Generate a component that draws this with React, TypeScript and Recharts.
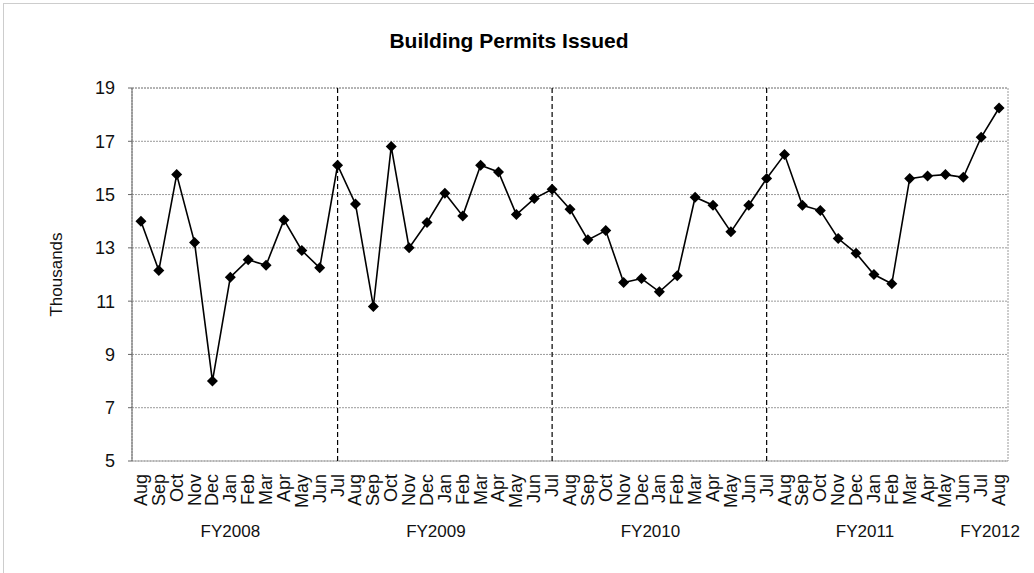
import React from 'react';
import {
  LineChart,
  Line,
  XAxis,
  YAxis,
  CartesianGrid,
  ReferenceLine,
  ReferenceArea,
} from 'recharts';

const months = [
  'Aug', 'Sep', 'Oct', 'Nov', 'Dec', 'Jan', 'Feb', 'Mar', 'Apr', 'May', 'Jun', 'Jul',
  'Aug', 'Sep', 'Oct', 'Nov', 'Dec', 'Jan', 'Feb', 'Mar', 'Apr', 'May', 'Jun', 'Jul',
  'Aug', 'Sep', 'Oct', 'Nov', 'Dec', 'Jan', 'Feb', 'Mar', 'Apr', 'May', 'Jun', 'Jul',
  'Aug', 'Sep', 'Oct', 'Nov', 'Dec', 'Jan', 'Feb', 'Mar', 'Apr', 'May', 'Jun', 'Jul',
  'Aug',
];

const permits = [
  14.0, 12.15, 15.75, 13.2, 8.0, 11.9, 12.55, 12.35, 14.05, 12.9, 12.25, 16.1,
  14.65, 10.8, 16.8, 13.0, 13.95, 15.05, 14.2, 16.1, 15.85, 14.25, 14.85, 15.2,
  14.45, 13.3, 13.65, 11.7, 11.85, 11.35, 11.95, 14.9, 14.6, 13.6, 14.6, 15.6,
  16.5, 14.6, 14.4, 13.35, 12.8, 12.0, 11.65, 15.6, 15.7, 15.75, 15.65, 17.15,
  18.25,
];

const fyLabels = ['FY2008', 'FY2009', 'FY2010', 'FY2011', 'FY2012'];
const fyStart = [0, 11, 23, 35, 47];
const fyEnd = [10, 22, 34, 46, 48];
const fyBoundaries = [11, 23, 35];
const yTicks = [5, 7, 9, 11, 13, 15, 17, 19];

const data = permits.map((v, i) => ({ idx: i, month: months[i], value: v }));
const monthTicks = months.map((_, i) => i);
const fyCenters = fyStart.map((s, i) => (s + fyEnd[i]) / 2);

const FONT = '"Liberation Sans", Arial, sans-serif';

const MonthTick = (props: any) => {
  const { x, y, payload } = props;
  return (
    <text
      transform={`translate(${x},${y + 13}) rotate(-90)`}
      textAnchor="end"
      dominantBaseline="central"
      fontSize={18}
      fontFamily={FONT}
      fill="#111"
    >
      {months[payload.value]}
    </text>
  );
};

const FyTick = (props: any) => {
  const { x, y, payload } = props;
  const i = fyCenters.indexOf(payload.value);
  return (
    <text x={x} y={y + 18} textAnchor="middle" fontSize={17} fontFamily={FONT} fill="#111">
      {fyLabels[i]}
    </text>
  );
};

const Diamond = (props: any) => {
  const { cx, cy, index } = props;
  if (cx == null || cy == null) return <g key={index} />;
  const s = 5.5;
  return (
    <path
      key={index}
      d={`M${cx},${cy - s}L${cx + s},${cy}L${cx},${cy + s}L${cx - s},${cy}Z`}
      fill="#000"
      stroke="none"
    />
  );
};

const YLabel = (props: any) => {
  const vb = props.viewBox || {};
  const cy = vb.y + vb.height / 2;
  return (
    <text
      transform={`translate(56,${cy}) rotate(-90)`}
      textAnchor="middle"
      dominantBaseline="central"
      fontSize={17}
      fontFamily={FONT}
      fill="#111"
    >
      Thousands
    </text>
  );
};

export default function App() {
  return (
    <div style={{ position: 'absolute', left: 0, top: 0, width: 1034, height: 573, background: '#fff', overflow: 'hidden' }}>
      <LineChart
        width={1034}
        height={573}
        data={data}
        margin={{ top: 88, right: 26, left: 0, bottom: 0 }}
        style={{ fontFamily: FONT }}
      >
        <CartesianGrid vertical={false} stroke="#9a9a9a" strokeDasharray="2 1" />
        <ReferenceArea
          x1={-0.5}
          x2={48.5}
          y1={5}
          y2={19}
          fill="none"
          fillOpacity={0}
          stroke="#9a9a9a"
          strokeDasharray="2 1"
          ifOverflow="visible"
        />
        <XAxis
          dataKey="idx"
          type="number"
          domain={[-0.5, 48.5]}
          allowDataOverflow
          ticks={monthTicks}
          interval={0}
          tick={<MonthTick />}
          tickLine={false}
          axisLine={false}
          tickSize={0}
          tickMargin={0}
          height={58}
        />
        <XAxis
          xAxisId="fy"
          dataKey="idx"
          type="number"
          domain={[-0.5, 48.5]}
          allowDataOverflow
          ticks={fyCenters}
          interval={0}
          tick={<FyTick />}
          tickLine={false}
          axisLine={false}
          tickSize={0}
          tickMargin={0}
          height={54}
        />
        <YAxis
          type="number"
          domain={[5, 19]}
          ticks={yTicks}
          interval={0}
          width={132}
          tickSize={4}
          tickMargin={13}
          tick={{ fontSize: 18, fill: '#111', fontFamily: FONT }}
          tickLine={{ stroke: '#666' }}
          axisLine={{ stroke: '#666' }}
          label={<YLabel />}
        />
        {fyBoundaries.map((b) => (
          <ReferenceLine key={b} x={b} stroke="#000" strokeWidth={1.2} strokeDasharray="5 3" />
        ))}
        <Line
          type="linear"
          dataKey="value"
          stroke="#000"
          strokeWidth={1.6}
          dot={(p: any) => <Diamond {...p} />}
          activeDot={false}
          isAnimationActive={false}
        />
      </LineChart>
      <svg
        width={1034}
        height={573}
        style={{ position: 'absolute', left: 0, top: 0, pointerEvents: 'none' }}
      >
        <rect x={3.5} y={3.5} width={1100} height={700} fill="none" stroke="#9a9a9a" strokeDasharray="1 1" />
        <text x={509} y={48} textAnchor="middle" fontSize={21} fontWeight="bold" fontFamily={FONT} fill="#000">
          Building Permits Issued
        </text>
      </svg>
    </div>
  );
}
